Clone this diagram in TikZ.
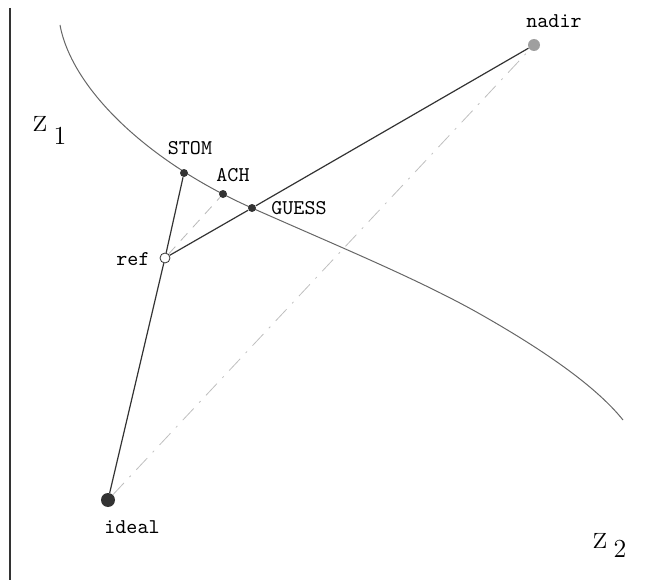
\documentclass[tikz,border=0pt]{standalone}
\usepackage{fontspec}
\usepackage{tikz}
\usetikzlibrary{positioning}
\definecolor{dotc}{HTML}{333333}
\definecolor{curvec}{HTML}{666666}

\begin{document}
\begin{tikzpicture}[
  x=0.5pt, y=0.5pt,
  solpt/.style={circle, fill=dotc, draw=none, minimum size=4pt, inner sep=0pt},
  refpt/.style={circle, draw=dotc, fill=white, thin, minimum size=5pt, inner sep=0pt},
  lbl/.style={font=\ttfamily\fontsize{10.5}{12}\selectfont, inner sep=1pt},
  axlbl/.style={font=\fontsize{17.5}{20}\selectfont, inner sep=0pt, anchor=base west},
  link/.style={draw=dotc, line width=0.6pt},
  guide/.style={draw=gray!55, line width=0.4pt, dash pattern=on 5pt off 4pt}
]
\useasboundingbox (0,0) rectangle (660,580);
% ---- axis and the front ----
\draw[line width=1pt, black!80] (10,572) -- (10,0);
\draw[curvec, line width=0.5pt] (60,555)
  .. controls (72,490) and (150,417) .. (252,372)
  .. controls (340,333) and (420,300) .. (480,266)
  .. controls (540,232) and (595,195) .. (623,160);
% ---- points ----
\node[solpt] (stom) at (184,407) {};
\node[solpt] (ach) at (223,386) {};
\node[solpt] (guess) at (252,372) {};
\node[refpt] (ref) at (165,322) {};
\node[circle, fill=gray!75, minimum size=6pt, inner sep=0pt] (nadir) at (534,535) {};
\node[circle, fill=dotc, minimum size=7pt, inner sep=0pt] (ideal) at (108,80) {};
% ---- connectors ----
\draw[link] (ideal) -- (ref);
\draw[link] (ref) -- (stom);
\draw[link] (ref) -- (guess);
\draw[link] (guess) -- (nadir);
\draw[guide] (ref) -- (ach);
\draw[draw=gray!50, line width=0.4pt, dash pattern=on 8pt off 4pt on 1pt off 4pt]
  (ideal) -- (nadir);
% ---- labels ----
\node[lbl] (stoml) at (190,432) {STOM};
\node[lbl] (achl) at (233,405) {ACH};
\node[lbl] (guessl) at (299,372) {GUESS};
\node[lbl] (refl) at (133,321) {ref};
\node[lbl] (nadirl) at (554,559) {nadir};
\node[lbl] (ideall) at (132,53) {ideal};
\node[axlbl] (zone) at (33,448)
  {z\hspace{3pt}\raisebox{-6.5pt}{\fontsize{13}{15}\selectfont 1}};
\node[axlbl] (ztwo) at (593,32)
  {z\hspace{3pt}\raisebox{-4.5pt}{\fontsize{13}{15}\selectfont 2}};
\end{tikzpicture}
\end{document}
